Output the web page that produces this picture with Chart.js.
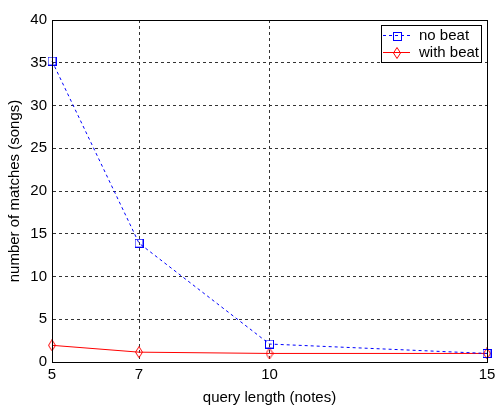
<!DOCTYPE html>
<html>
<head>
<meta charset="utf-8">
<script src="https://cdn.jsdelivr.net/npm/chart.js@4"></script>
<style>
  html, body { margin: 0; padding: 0; background: #fff; }
  #wrap { width: 495px; height: 405px; }
</style>
</head>
<body>
<div id="wrap"><canvas id="matchChart"></canvas></div>
<script>
// values
const queryLengths = [5, 7, 10, 15];
const noBeat = [35.2, 13.9, 2.1, 1.0];
const withBeat = [1.95, 1.15, 1.0, 1.0];
const xTickValues = [5, 7, 10, 15];
const seriesLabels = ["no beat", "with beat"];

const FONT = "'Liberation Sans', Arial, sans-serif";

// MATLAB style markers, drawn once into small canvases
function squareMarker(color) {
    const c = document.createElement("canvas");
    c.width = 9; c.height = 9;
    const g = c.getContext("2d");
    g.strokeStyle = color;
    g.lineWidth = 1;
    g.strokeRect(0.5, 0.5, 8, 8);
    return c;
}

function diamondMarker(color) {
    const c = document.createElement("canvas");
    c.width = 8; c.height = 12;
    const g = c.getContext("2d");
    g.strokeStyle = color;
    g.lineWidth = 1;
    g.beginPath();
    g.moveTo(4, 0.5);
    g.lineTo(7.5, 6);
    g.lineTo(4, 11.5);
    g.lineTo(0.5, 6);
    g.closePath();
    g.stroke();
    return c;
}

const blueSquare = squareMarker("#0000ff");
const redDiamond = diamondMarker("#ff0000");

// axes box (top and right edges) like MATLAB "box on"
const boxPlugin = {
    id: "axesBox",
    afterDatasetsDraw(chart) {
        const a = chart.chartArea;
        const ctx = chart.ctx;
        ctx.save();
        ctx.strokeStyle = "#000";
        ctx.lineWidth = 1;
        ctx.strokeRect(Math.round(a.left) + 0.5, Math.round(a.top) + 0.5,
            Math.round(a.right - a.left), Math.round(a.bottom - a.top));
        ctx.restore();
    }
};

// legend box in the top right corner, line sample + marker + label
const legendPlugin = {
    id: "matlabLegend",
    afterDraw(chart) {
        const a = chart.chartArea;
        const ctx = chart.ctx;
        const w = 100, h = 37;
        const left = Math.round(a.right) - 6 - w;
        const top = Math.round(a.top) + 5;
        ctx.save();
        ctx.fillStyle = "#fff";
        ctx.fillRect(left, top, w, h);
        ctx.strokeStyle = "#000";
        ctx.lineWidth = 1;
        ctx.strokeRect(left + 0.5, top + 0.5, w, h);
        ctx.font = "15px " + FONT;
        ctx.textBaseline = "middle";
        chart.data.datasets.forEach((ds, i) => {
            const y = top + 10 + i * 17;
            ctx.strokeStyle = ds.borderColor;
            ctx.setLineDash(ds.borderDash || []);
            ctx.beginPath();
            ctx.moveTo(left + 2, y + 0.5);
            ctx.lineTo(left + 29, y + 0.5);
            ctx.stroke();
            ctx.setLineDash([]);
            const m = ds.pointStyle;
            ctx.drawImage(m, left + 16 - Math.floor(m.width / 2), y + 1 - Math.floor(m.height / 2));
            ctx.fillStyle = "#000";
            ctx.fillText(ds.label, left + 38, y + 1);
        });
        ctx.restore();
    }
};

new Chart(document.getElementById("matchChart"), {
    type: "line",
    data: {
        datasets: [
            {
                label: seriesLabels[0],
                data: queryLengths.map((x, i) => ({ x: x, y: noBeat[i] })),
                borderColor: "#0000ff",
                borderWidth: 1,
                borderDash: [3, 3],
                pointStyle: blueSquare,
                pointRadius: 5,
                tension: 0,
                clip: false
            },
            {
                label: seriesLabels[1],
                data: queryLengths.map((x, i) => ({ x: x, y: withBeat[i] })),
                borderColor: "#ff0000",
                borderWidth: 1,
                pointStyle: redDiamond,
                pointRadius: 5,
                tension: 0,
                clip: false
            }
        ]
    },
    options: {
        responsive: true,
        maintainAspectRatio: false,
        animation: false,
        layout: { padding: { top: 20, right: 8, left: 0, bottom: 0 } },
        plugins: {
            legend: { display: false },
            tooltip: { enabled: false }
        },
        scales: {
            x: {
                type: "linear",
                min: 5,
                max: 15,
                afterBuildTicks: (s) => { s.ticks = xTickValues.map(v => ({ value: v })); },
                afterFit: (s) => { s.height = 43; s.paddingLeft = 0; s.paddingRight = 0; },
                ticks: {
                    color: "#000",
                    font: { family: FONT, size: 15 },
                    padding: 4,
                    maxRotation: 0
                },
                grid: {
                    color: (ctx) => (ctx.tick && (ctx.tick.value === 5 || ctx.tick.value === 15)) ? "rgba(0,0,0,0)" : "#333",
                    drawTicks: false
                },
                border: { display: true, color: "#000", dash: [3, 3] },
                title: {
                    display: true,
                    text: "query length (notes)",
                    color: "#000",
                    font: { family: FONT, size: 15, lineHeight: 1 },
                    padding: { top: 0, bottom: 0 }
                }
            },
            y: {
                min: 0,
                max: 40,
                afterFit: (s) => { s.width = 52; },
                ticks: {
                    stepSize: 5,
                    color: "#000",
                    font: { family: FONT, size: 15 },
                    padding: 5
                },
                grid: {
                    color: (ctx) => (ctx.tick && (ctx.tick.value === 0 || ctx.tick.value === 40)) ? "rgba(0,0,0,0)" : "#333",
                    drawTicks: false
                },
                border: { display: true, color: "#000", dash: [3, 3] },
                title: {
                    display: true,
                    text: "number of matches (songs)",
                    color: "#000",
                    font: { family: FONT, size: 15, lineHeight: 1.2 },
                    padding: { top: 6, bottom: 0 }
                }
            }
        }
    },
    plugins: [boxPlugin, legendPlugin]
});
</script>
</body>
</html>
